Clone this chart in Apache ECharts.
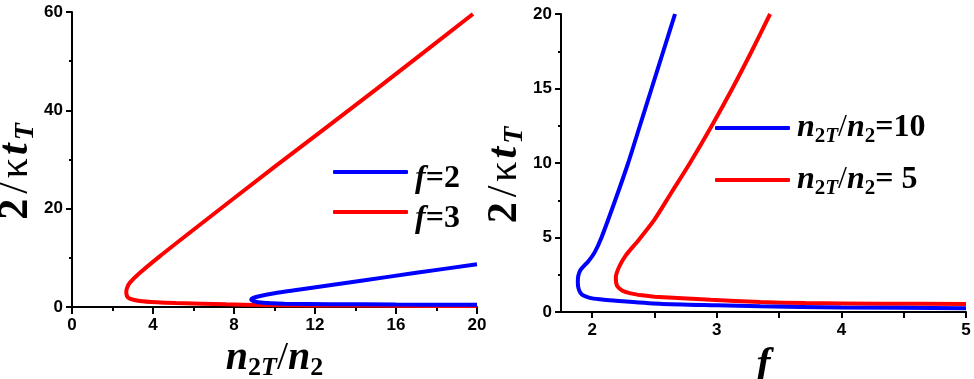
<!DOCTYPE html>
<html><head><meta charset="utf-8">
<script src="https://cdn.jsdelivr.net/npm/echarts/dist/echarts.min.js"></script>
<style>html,body{margin:0;padding:0;background:#fff}.c{position:absolute;left:0;top:0;width:974px;height:379px}</style>
</head><body><div class="c" id="cl"></div><div class="c" id="cr"></div>
<script>
// ---- Left panel data (x: n2T/n2, y: 2/κt_T) ----
const leftXTicks = [0, 4, 8, 12, 16, 20];
const leftYTicks = [0, 20, 40, 60];
const leftF2X = [20, 17, 14.37, 11.08, 10.0, 9.3, 8.95, 8.85, 8.95, 9.43, 10.5, 12.73, 16, 20];
const leftF2Y = [8.7, 6.95, 5.4, 3.45, 2.8, 2.25, 1.85, 1.5, 1.2, 0.85, 0.68, 0.58, 0.5, 0.45];
const leftF3X = [19.8, 15, 10, 5.81, 4.33, 3.34, 2.85, 2.72, 2.68, 2.72, 2.85, 3.34, 4.2, 5.15, 7.62, 9.27, 12, 16, 20];
const leftF3Y = [59.6, 44.2, 28.5, 15.1, 10.3, 6.9, 4.9, 3.9, 3.0, 2.2, 1.7, 1.22, 0.95, 0.8, 0.55, 0.42, 0.32, 0.25, 0.2];
const leftSeriesNames = ['f=2', 'f=3'];

// ---- Right panel data (x: f, y: 2/κt_T) ----
const rightXLabels = [2, 3, 4, 5];
const rightXTicks = [2, 2.5, 3, 3.5, 4, 4.5, 5];
const rightYTicks = [0, 5, 10, 15, 20];
const rightN10X = [2.665, 2.571, 2.477, 2.383, 2.289, 2.185, 2.075, 2.02, 1.97, 1.935, 1.905, 1.888, 1.885, 1.89, 1.905, 1.93, 1.98, 2.06, 2.14, 2.54, 3.0, 3.35, 4.0, 5.0];
const rightN10Y = [20, 17.5, 15, 12.5, 10, 7.5, 5, 4.0, 3.4, 3.1, 2.8, 2.4, 2.0, 1.6, 1.3, 1.1, 0.95, 0.85, 0.79, 0.56, 0.45, 0.38, 0.31, 0.25];
const rightN5X = [3.428, 3.280, 3.125, 2.960, 2.785, 2.635, 2.50, 2.37, 2.27, 2.215, 2.19, 2.20, 2.24, 2.30, 2.40, 2.50, 2.95, 3.35, 3.71, 4.3, 5.0];
const rightN5Y = [20, 17.5, 15, 12.5, 10, 8, 6.2, 4.8, 3.8, 3.0, 2.3, 1.75, 1.45, 1.27, 1.12, 1.03, 0.82, 0.67, 0.60, 0.56, 0.54];
const rightSeriesNames = ['n10', 'n5'];
const rightLegendValues = ['10', ' 5'];

const zip = (xs, ys) => xs.map((x, i) => [x, ys[i]]);
const SERIF = "'Liberation Serif','Times New Roman',serif";
const SANS = "'Liberation Sans',Arial,sans-serif";
const BLUE = '#0000ff', RED = '#ff0000';

const tickLabel = () => ({ show: true, color: '#000', fontFamily: SANS, fontWeight: 'bold', fontSize: 17 });
const axisLine = () => ({ show: true, onZero: false, lineStyle: { color: '#000', width: 2 } });
const tick = (len, extra) => Object.assign({ show: true, length: len, lineStyle: { color: '#000', width: 2 } }, extra || {});
const minor = (len) => ({ show: true, splitNumber: 2, length: len, lineStyle: { width: 2, color: '#000' } });

const yNameRich = {
  d: { fontFamily: SERIF, fontWeight: 'bold', fontSize: 42, color: '#000', padding: [0, 2, 0, 0] },
  sl: { fontFamily: SERIF, fontWeight: 'normal', fontSize: 42, color: '#000', padding: [0, 4, 0, 3] },
  k: { fontFamily: SERIF, fontWeight: 'normal', fontSize: 40, color: '#000', padding: [0, 3, 0, 0] },
  t: { fontFamily: SERIF, fontWeight: 'bold', fontStyle: 'italic', fontSize: 42, color: '#000', padding: [0, 3, 0, 0] },
  s: { fontFamily: SERIF, fontWeight: 'bold', fontStyle: 'italic', fontSize: 28, color: '#000', padding: [20, 0, 0, 0] }
};
const yName = '{d|2}{sl|/}{k|κ}{t|t}{s|T}';

const xNameRich = {
  n: { fontFamily: SERIF, fontWeight: 'bold', fontStyle: 'italic', fontSize: 40, color: '#000' },
  s: { fontFamily: SERIF, fontWeight: 'bold', fontSize: 26, color: '#000', padding: [18, 0, 0, 0] },
  si: { fontFamily: SERIF, fontWeight: 'bold', fontStyle: 'italic', fontSize: 26, color: '#000', padding: [18, 0, 0, 0] },
  sl: { fontFamily: SERIF, fontWeight: 'normal', fontSize: 40, color: '#000' },
  f: { fontFamily: SERIF, fontWeight: 'bold', fontStyle: 'italic', fontSize: 42, color: '#000' }
};

const legLeftRich = {
  fi: { fontFamily: SERIF, fontWeight: 'bold', fontStyle: 'italic', fontSize: 32, color: '#000', padding: [14, 0, 0, 0] },
  b: { fontFamily: SERIF, fontWeight: 'bold', fontSize: 32, color: '#000', padding: [14, 0, 0, 0] }
};
const legRightRich = {
  n: { fontFamily: SERIF, fontWeight: 'bold', fontStyle: 'italic', fontSize: 32, color: '#000' },
  s: { fontFamily: SERIF, fontWeight: 'bold', fontSize: 21, color: '#000', padding: [17, 0, 0, 0] },
  si: { fontFamily: SERIF, fontWeight: 'bold', fontStyle: 'italic', fontSize: 21, color: '#000', padding: [17, 0, 0, 0] },
  sl: { fontFamily: SERIF, fontWeight: 'normal', fontSize: 32, color: '#000' },
  b: { fontFamily: SERIF, fontWeight: 'bold', fontSize: 32, color: '#000' }
};

function legendItem(name, left, top, rich, fmt) {
  return {
    data: [name], left: left, top: top, orient: 'vertical', padding: 0,
    itemWidth: 75, itemHeight: 4, icon: 'roundRect', selectedMode: false,
    itemGap: 0, textStyle: { rich: rich, padding: [0, 0, 0, 2] }, formatter: fmt
  };
}
const lineSeries = (name, data, color) => ({
  name: name, type: 'line', data: data, showSymbol: false, smooth: 0.25,
  lineStyle: { color: color, width: 4 }, itemStyle: { color: color }
});

// ---- Left chart ----
const chartL = echarts.init(document.getElementById('cl'), null, { renderer: 'canvas' });
chartL.setOption({
  animation: false,
  grid: [{ left: 72, top: 12, width: 405, height: 295, outerBoundsMode: 'none' }],
  legend: [
    legendItem(leftSeriesNames[0], 333, 163, legLeftRich, n => '{fi|f}{b|=' + n.split('=')[1] + '}'),
    legendItem(leftSeriesNames[1], 333, 203, legLeftRich, n => '{fi|f}{b|=' + n.split('=')[1] + '}')
  ],
  xAxis: [{
    type: 'value', min: leftXTicks[0], max: leftXTicks[leftXTicks.length - 1], interval: 4,
    axisLine: axisLine(), splitLine: { show: false }, axisTick: tick(7), minorTick: minor(4),
    axisLabel: Object.assign({ margin: 10 }, tickLabel()),
    name: '{n|n}{s|2}{si|T}{sl|/}{n|n}{s|2}', nameLocation: 'middle', nameGap: 18,
    nameTextStyle: { rich: xNameRich }
  }],
  yAxis: [{
    type: 'value', min: leftYTicks[0], max: leftYTicks[leftYTicks.length - 1], interval: 20,
    axisLine: axisLine(), splitLine: { show: false }, axisTick: tick(6), minorTick: minor(3),
    axisLabel: Object.assign({ margin: 9 }, tickLabel()),
    name: yName, nameLocation: 'middle', nameGap: 26, nameRotate: 90,
    nameTextStyle: { rich: yNameRich, padding: [0, 24, 0, 0] }
  }],
  series: [
    lineSeries(leftSeriesNames[1], zip(leftF3X, leftF3Y), RED),
    lineSeries(leftSeriesNames[0], zip(leftF2X, leftF2Y), BLUE)
  ]
});

// ---- Right chart ----
const chartR = echarts.init(document.getElementById('cr'), null, { renderer: 'canvas' });
chartR.setOption({
  animation: false,
  grid: [{ left: 561, top: 14, width: 405, height: 298, outerBoundsMode: 'none' }],
  legend: [
    legendItem(rightSeriesNames[0], 715, 112, legRightRich, n => '{n|n}{s|2}{si|T}{sl|/}{n|n}{s|2}{b|=' + rightLegendValues[0] + '}'),
    legendItem(rightSeriesNames[1], 715, 164, legRightRich, n => '{n|n}{s|2}{si|T}{sl|/}{n|n}{s|2}{b|=' + rightLegendValues[1] + '}')
  ],
  xAxis: [{
    type: 'value', min: 1.75, max: 5, interval: 0.25,
    axisLine: axisLine(), splitLine: { show: false },
    axisTick: tick(6, { customValues: rightXTicks }),
    axisLabel: Object.assign({ margin: 10, customValues: rightXLabels }, tickLabel()),
    name: '{f|f}', nameLocation: 'middle', nameGap: 20,
    nameTextStyle: { rich: xNameRich }
  }],
  yAxis: [{
    type: 'value', min: rightYTicks[0], max: rightYTicks[rightYTicks.length - 1], interval: 5,
    axisLine: axisLine(), splitLine: { show: false }, axisTick: tick(6), minorTick: minor(3),
    axisLabel: Object.assign({ margin: 9 }, tickLabel()),
    name: yName, nameLocation: 'middle', nameGap: 26, nameRotate: 90,
    nameTextStyle: { rich: yNameRich, padding: [0, 24, 0, 0] }
  }],
  series: [
    lineSeries(rightSeriesNames[1], zip(rightN5X, rightN5Y), RED),
    lineSeries(rightSeriesNames[0], zip(rightN10X, rightN10Y), BLUE)
  ]
});
</script></body></html>
